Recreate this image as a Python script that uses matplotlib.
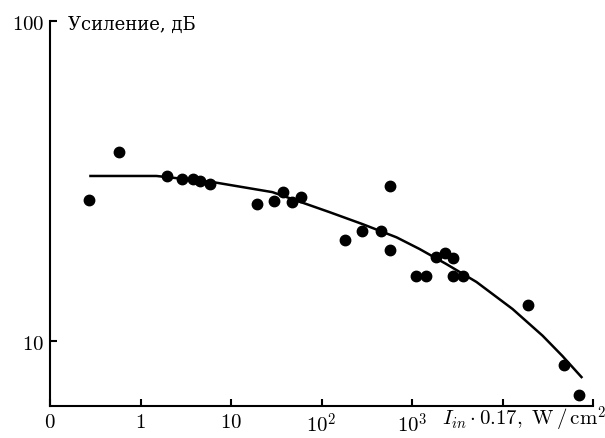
import numpy as np
import matplotlib.pyplot as plt
from matplotlib.ticker import NullLocator

plt.rcParams['mathtext.fontset'] = 'cm'
plt.rcParams['font.family'] = ['DejaVu Serif']

# measured points: intensity * 0.17 [W/cm^2], gain [dB]
x_pts = [0.273, 0.586, 1.94, 2.91, 3.76, 4.6, 5.93, 19.6, 29.5, 38.0, 46.7, 60,
         184, 283, 460, 575, 575, 1120, 1440, 1820, 2290, 2870, 2810, 3630,
         19000, 48400, 70800]
y_pts = [27.6, 39.0, 32.8, 32.1, 32.1, 31.6, 31.0, 26.8, 27.4, 29.2, 27.2, 28.1,
         20.7, 22.1, 22.1, 19.2, 30.5, 15.96, 15.96, 18.3, 18.8, 18.2, 15.96, 15.96,
         12.96, 8.41, 6.78]

# fitted curve
x_fit = [0.280, 1.50, 6.25, 28.7, 122, 284, 674, 1210, 2400, 5160, 12900,
         27700, 46000, 74600]
y_fit = [32.8, 32.8, 31.4, 29.2, 25.3, 23.2, 21.1, 19.4, 17.4, 15.3, 12.6,
         10.4, 8.98, 7.72]

x_ticks = [0.1, 1, 10, 100, 1000, 1e4, 1e5]
x_labels = ['$0$', '$1$', '$10$', '$10^2$', '$10^3$', '', '']
y_ticks = [10, 100]
y_labels = ['$10$', '$100$']

fig = plt.figure(figsize=(6.05, 4.39), dpi=100)
ax = fig.add_axes([50/605, 32/439, 543/605, 385/439])

ax.plot(x_fit, y_fit, color='black', lw=1.8)
ax.plot(x_pts, y_pts, 'o', color='black', ms=7.5, mec='black')

ax.set_xscale('log')
ax.set_yscale('log')
ax.set_xlim(0.1, 1e5)
ax.set_ylim(6.27, 100)

ax.spines['top'].set_visible(False)
ax.spines['right'].set_visible(False)
for s in ('left', 'bottom'):
    ax.spines[s].set_linewidth(1.5)

ax.set_xticks(x_ticks)
ax.set_xticklabels(x_labels, fontsize=15)
ax.set_yticks(y_ticks)
ax.set_yticklabels(y_labels, fontsize=15)
ax.xaxis.set_minor_locator(NullLocator())
ax.yaxis.set_minor_locator(NullLocator())
ax.tick_params(axis='both', direction='in', length=5, width=1.5, pad=4)

ax.text(18/543, 1 - 3/385, 'Усиление, дБ', transform=ax.transAxes, fontsize=13,
        ha='left', va='center')
fig.text(606/605, (439 - 419)/439,
         r'$I_{in}\cdot 0.17,\ \mathrm{W}\,/\,\mathrm{cm}^2$',
         fontsize=15, ha='right', va='center')

fig.savefig('out.png', dpi=100)
